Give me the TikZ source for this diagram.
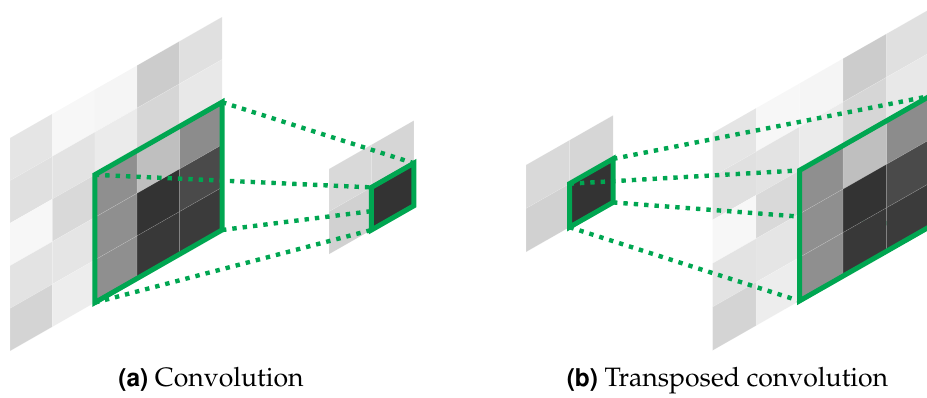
\documentclass[tikz,border=0pt]{standalone}
\usepackage[T1]{fontenc}
\usepackage{mathpazo}
\usepackage[scaled=0.92]{helvet}
\usepackage{tikz}

\definecolor{framegreen}{RGB}{0,166,81}

% cells outside / inside the 3x3 window: col/row/darkness
\newcommand{\outercells}{0/0/10,1/0/3,2/0/4,3/0/20,4/0/12,
  0/1/12,1/1/11,2/1/8,3/1/16,4/1/9,
  0/2/3,1/2/15,0/3/11,1/3/10,0/4/17,1/4/7}
\newcommand{\innercells}{2/2/44,3/2/25,4/2/45,
  2/3/44,3/3/80,4/3/71,2/4/44,3/4/78,4/4/77}
\newcommand{\smallcells}{0/0/15,1/0/16,0/1/18}
\newcommand{\skewcell}[3]{\filldraw[cellbox, fill=black!#3] (#1,#2) -- ++(1,0) -- ++(0,1) -- ++(-1,0) -- cycle;}

\begin{document}
\begin{tikzpicture}[x=0.5pt, y=-0.5pt,
    cellbox/.style={draw=white, draw opacity=0.2, line width=0.25pt},
    greenframe/.style={draw=framegreen, line width=2.5pt},
    dotlink/.style={draw=framegreen, line width=2.2pt, dash pattern=on 2.2pt off 3pt},
    gridA/.style={x={(21.2pt,12.1pt)}, y={(0pt,-21.3pt)}},
    gridB/.style={x={(21.75pt,12.4pt)}, y={(0pt,-21.75pt)}},
    caption/.style={anchor=base, font=\fontsize{13.3}{16}\selectfont}]
    \useasboundingbox (0,0) rectangle (927,397);
    \clip (0,0) rectangle (927,397);

    % (a) input map with the 3x3 window
    \begin{scope}[shift={(10,138)}, gridA]
        \foreach \c/\r/\s in \outercells {\skewcell{\c}{\r}{\s}}
        \foreach \c/\r/\s in \innercells {\skewcell{\c}{\r}{\s}}
        \coordinate (ain-tl) at (2,2);
        \coordinate (ain-tr) at (5,2);
        \coordinate (ain-br) at (5,5);
        \coordinate (ain-bl) at (2,5);
        \draw[greenframe] (ain-tl) -- (ain-tr) -- (ain-br) -- (ain-bl) -- cycle;
    \end{scope}
    % (a) output map
    \begin{scope}[shift={(329,169)}, gridA]
        \foreach \c/\r/\s in \smallcells {\skewcell{\c}{\r}{\s}}
        \coordinate (aout-tl) at (1,1);
        \coordinate (aout-tr) at (2,1);
        \coordinate (aout-br) at (2,2);
        \coordinate (aout-bl) at (1,2);
    \end{scope}
    \draw[dotlink] (ain-tl) -- (aout-tl);
    \draw[dotlink] (ain-tr) -- (aout-tr);
    \draw[dotlink] (ain-br) -- (aout-br);
    \draw[dotlink] (ain-bl) -- (aout-bl);
    \begin{scope}[shift={(329,169)}, gridA]
        \skewcell{1}{1}{80}
        \draw[greenframe] (aout-tl) -- (aout-tr) -- (aout-br) -- (aout-bl) -- cycle;
    \end{scope}

    % (b) input map
    \begin{scope}[shift={(526,165)}, gridB]
        \foreach \c/\r/\s in \smallcells {\skewcell{\c}{\r}{\s}}
        \skewcell{1}{1}{80}
        \coordinate (bin-tl) at (1,1);
        \coordinate (bin-tr) at (2,1);
        \coordinate (bin-br) at (2,2);
        \coordinate (bin-bl) at (1,2);
        \draw[greenframe] (bin-tl) -- (bin-tr) -- (bin-br) -- (bin-bl) -- cycle;
    \end{scope}
    % (b) output map, window drawn last
    \begin{scope}[shift={(712.5,133)}, gridB]
        \foreach \c/\r/\s in \outercells {\skewcell{\c}{\r}{\s}}
        \coordinate (bout-tl) at (2,2);
        \coordinate (bout-tr) at (5,2);
        \coordinate (bout-br) at (5,5);
        \coordinate (bout-bl) at (2,5);
    \end{scope}
    \draw[dotlink] (bin-tl) -- (bout-tl);
    \draw[dotlink] (bin-tr) -- (bout-tr);
    \draw[dotlink] (bin-br) -- (bout-br);
    \draw[dotlink] (bin-bl) -- (bout-bl);
    \begin{scope}[shift={(712.5,133)}, gridB]
        \foreach \c/\r/\s in \innercells {\skewcell{\c}{\r}{\s}}
        \draw[greenframe] (bout-tl) -- (bout-tr) -- (bout-br) -- (bout-bl) -- cycle;
    \end{scope}

    % Below nodes are the captions.
        \node[caption] (capa) at (211,386) {\textsf{\textbf{(a)}} Convolution};
        \node[caption] (capb) at (727.5,386) {\textsf{\textbf{(b)}} Transposed convolution};
\end{tikzpicture}
\end{document}
